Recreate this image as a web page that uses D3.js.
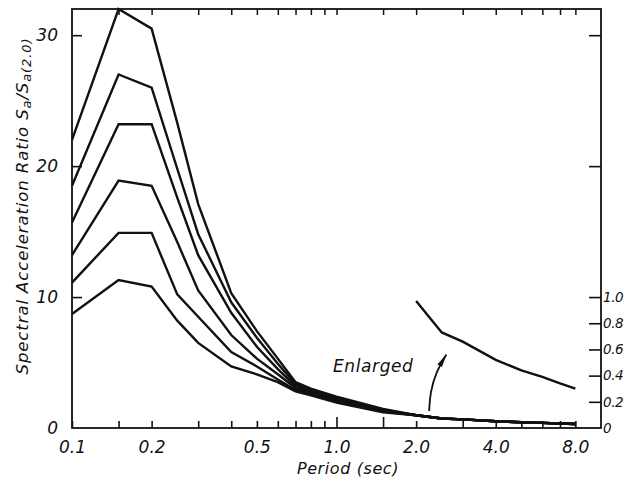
<!DOCTYPE html>
<html>
<head>
<meta charset="utf-8">
<script src="https://cdn.jsdelivr.net/npm/d3@7"></script>
<style>
  html, body { margin: 0; padding: 0; background: #fff; }
  svg { display: block; }
  text { font-family: "DejaVu Sans", sans-serif; font-style: italic; fill: #111; }
</style>
</head>
<body>
<svg id="chart" width="628" height="483"></svg>
<script>
// Periods (sec) at which the spectral ratio curves are defined
const periods = [0.1, 0.15, 0.2, 0.25, 0.3, 0.4, 0.5, 0.6, 0.7, 0.8, 1.0, 1.5,
                 2.0, 2.5, 3.0, 4.0, 5.0, 6.0, 7.0, 8.0];

// Long-period tail shared by all curves (also drawn enlarged x10)
const tailPeriods = [2.0, 2.5, 3.0, 4.0, 5.0, 6.0, 7.0, 8.0];
const tailRatio   = [0.97, 0.73, 0.66, 0.52, 0.44, 0.39, 0.34, 0.30];

// Short-period part of each curve, 0.1 to 1.5 sec
const curve1 = [22.0, 32.0, 30.5, 23.3, 17.1, 10.3, 7.4, 5.3, 3.5, 3.0, 2.4, 1.45];
const curve2 = [18.5, 27.0, 26.0, 19.8, 14.8, 9.6, 6.9, 4.9, 3.35, 2.9, 2.3, 1.4];
const curve3 = [15.7, 23.2, 23.2, 17.6, 13.2, 8.8, 6.2, 4.5, 3.2, 2.8, 2.2, 1.35];
const curve4 = [13.2, 18.9, 18.5, 14.2, 10.5, 7.1, 5.3, 4.1, 3.05, 2.7, 2.1, 1.3];
const curve5 = [11.1, 14.9, 14.9, 10.2, 8.5, 5.8, 4.7, 3.7, 2.9, 2.6, 2.0, 1.25];
const curve6 = [8.7, 11.3, 10.8, 8.2, 6.5, 4.7, 4.1, 3.5, 2.8, 2.5, 1.95, 1.2];

// Axis ticks
const xTicks = [0.15, 0.2, 0.3, 0.4, 0.5, 0.6, 0.7, 0.8, 0.9, 1.0, 1.5, 2.0, 3.0, 4.0, 5.0, 6.0, 7.0, 8.0];
const xLabels = {0.1: "0.1", 0.2: "0.2", 0.5: "0.5", 1: "1.0", 2: "2.0", 4: "4.0", 8: "8.0"};
const yTicks = [0, 10, 20, 30];
const yRightTicks = [0, 0.2, 0.4, 0.6, 0.8, 1.0];
const yRightExtraTicks = [2.0, 3.0];

// Arrow pointing from the tail band to the enlarged curve (period, ratio)
const arrowPath = [[2.24, 1.3], [2.26, 2.7], [2.38, 4.3], [2.6, 5.6]];

const svg = d3.select("#chart");
const mLeft = 72, mRight = 601, mTop = 9, mBottom = 428;

const x = d3.scaleLog().domain([0.1, 10]).range([mLeft, mRight]);
const y = d3.scaleLinear().domain([0, 32]).range([mBottom, mTop]);
const yR = d3.scaleLinear().domain([0, 3.2]).range([mBottom, mTop]);

const series = [curve1, curve2, curve3, curve4, curve5, curve6]
  .map(head => head.concat(tailRatio).map((v, i) => [periods[i], v]));

// Frame
svg.append("rect")
  .attr("x", mLeft).attr("y", mTop)
  .attr("width", mRight - mLeft).attr("height", mBottom - mTop)
  .attr("fill", "none").attr("stroke", "#111").attr("stroke-width", 1.8);

// Bottom axis
const xAxis = d3.axisBottom(x).tickValues([0.1].concat(xTicks))
  .tickSize(-6).tickPadding(13)
  .tickFormat(d => xLabels[d] || "");
const gx = svg.append("g").attr("transform", `translate(0,${mBottom})`).call(xAxis);
gx.select(".domain").remove();
gx.selectAll(".tick line").attr("stroke", "#111").attr("stroke-width", 1.6)
  .attr("y2", d => (d === 1.0 || d === 1.5) ? -11 : -7);
gx.selectAll(".tick text").attr("font-size", 17).attr("font-family", "DejaVu Sans")
  .attr("font-style", "italic").attr("fill", "#111");

// Top axis ticks
const xTop = d3.axisTop(x).tickValues(xTicks).tickSize(-6).tickFormat("");
const gt = svg.append("g").attr("transform", `translate(0,${mTop})`).call(xTop);
gt.select(".domain").remove();
gt.selectAll(".tick line").attr("stroke", "#111").attr("stroke-width", 1.5);

// Left axis
const yAxis = d3.axisLeft(y).tickValues(yTicks).tickSize(-10).tickPadding(14)
  .tickFormat(d3.format("d"));
const gy = svg.append("g").attr("transform", `translate(${mLeft},0)`).call(yAxis);
gy.select(".domain").remove();
gy.selectAll(".tick line").attr("stroke", "#111").attr("stroke-width", 1.6);
gy.selectAll(".tick line").filter(d => d === 0).remove();
gy.selectAll(".tick text").attr("font-size", 17).attr("font-family", "DejaVu Sans")
  .attr("font-style", "italic").attr("fill", "#111");

// Right axis (enlarged scale)
const yRAxis = d3.axisRight(yR).tickValues(yRightTicks).tickSize(-12).tickPadding(2)
  .tickFormat(d => d === 0 ? "0" : d3.format(".1f")(d));
const gr = svg.append("g").attr("transform", `translate(${mRight},0)`).call(yRAxis);
gr.select(".domain").remove();
gr.selectAll(".tick line").attr("stroke", "#111").attr("stroke-width", 1.6);
gr.selectAll(".tick line").filter(d => d === 0).remove();
gr.selectAll(".tick text").attr("font-size", 13.5).attr("letter-spacing", -0.4)
  .attr("font-family", "DejaVu Sans")
  .attr("font-style", "italic").attr("fill", "#111");
const grx = svg.append("g").attr("transform", `translate(${mRight},0)`)
  .call(d3.axisRight(yR).tickValues(yRightExtraTicks).tickSize(-12).tickFormat(""));
grx.select(".domain").remove();
grx.selectAll(".tick line").attr("stroke", "#111").attr("stroke-width", 1.6);

// Curves
const line = d3.line().x(d => x(d[0])).y(d => y(d[1]));
svg.append("g").selectAll("path").data(series).join("path")
  .attr("d", line)
  .attr("fill", "none").attr("stroke", "#111").attr("stroke-width", 2.4)
  .attr("stroke-linejoin", "miter");

// Enlarged tail on the right-hand scale
const lineR = d3.line().x(d => x(d[0])).y(d => yR(d[1]));
svg.append("path")
  .attr("d", lineR(tailPeriods.map((p, i) => [p, tailRatio[i]])))
  .attr("fill", "none").attr("stroke", "#111").attr("stroke-width", 2.4);

// Annotation
svg.append("defs").append("marker")
  .attr("id", "head").attr("viewBox", "0 -3 14 6")
  .attr("refX", 13).attr("refY", 0)
  .attr("markerWidth", 14).attr("markerHeight", 6)
  .attr("markerUnits", "userSpaceOnUse").attr("orient", "auto")
  .append("path").attr("d", "M0,-2.6L14,0L0,2.6Z").attr("fill", "#111");

svg.append("path")
  .attr("d", d3.line().x(d => x(d[0])).y(d => y(d[1])).curve(d3.curveBasis)(arrowPath))
  .attr("fill", "none").attr("stroke", "#111").attr("stroke-width", 1.8)
  .attr("marker-end", "url(#head)");

svg.append("text")
  .attr("x", x(0.97)).attr("y", y(4.3))
  .attr("font-size", 17).attr("letter-spacing", 0.6).text("Enlarged");

// Axis titles
svg.append("text")
  .attr("x", 348).attr("y", 474)
  .attr("text-anchor", "middle").attr("font-size", 16).attr("letter-spacing", 0.6)
  .text("Period (sec)");

const yl = svg.append("text")
  .attr("transform", `translate(28,206) rotate(-90)`)
  .attr("text-anchor", "middle").attr("font-size", 16.5).attr("letter-spacing", 0.9);
yl.append("tspan").text("Spectral Acceleration Ratio  S");
yl.append("tspan").attr("dy", 3).attr("font-size", 13).text("a");
yl.append("tspan").attr("dy", -3).text("/S");
yl.append("tspan").attr("dy", 3).attr("font-size", 13).text("a(2.0)");
</script>
</body>
</html>
